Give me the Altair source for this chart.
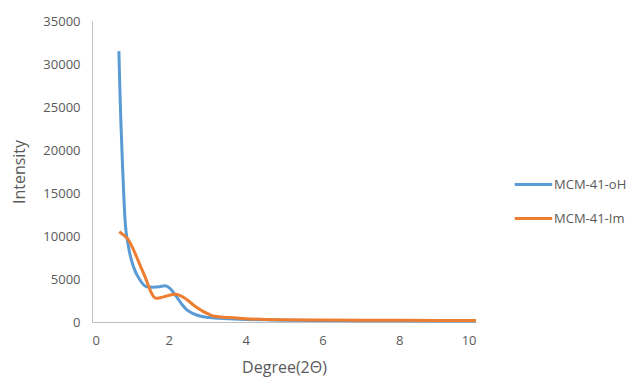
import altair as alt
import pandas as pd

oh_x = [0.70, 0.72, 0.75, 0.80, 0.86, 0.95, 1.08, 1.25, 1.42, 1.60, 1.75, 1.90, 2.03, 2.20, 2.35, 2.47, 2.65, 2.81, 3.05, 3.33, 3.7, 4.0, 4.5, 5.0, 6.0, 7.0, 8.0, 9.0, 10.0]
oh_y = [31500, 28000, 23500, 17700, 11900, 8760, 6430, 4880, 4100, 4050, 4100, 4220, 3900, 2940, 2000, 1400, 950, 700, 520, 430, 350, 300, 250, 200, 170, 150, 140, 130, 120]

im_x = [0.71, 0.80, 0.95, 1.05, 1.16, 1.28, 1.38, 1.48, 1.55, 1.68, 1.80, 1.94, 2.05, 2.16, 2.28, 2.38, 2.50, 2.64, 2.78, 2.90, 3.05, 3.16, 3.35, 3.60, 4.0, 4.5, 5.0, 6.0, 7.0, 8.0, 9.0, 10.0]
im_y = [10500, 10200, 9530, 8700, 7590, 6300, 5270, 4100, 3340, 2760, 2850, 3020, 3150, 3220, 3100, 2870, 2500, 1980, 1550, 1200, 900, 700, 580, 510, 380, 300, 250, 220, 200, 190, 180, 170]

series = ["MCM-41-oH", "MCM-41-Im"]

df = pd.concat([
    pd.DataFrame({"x": oh_x, "y": oh_y, "s": series[0], "o": range(len(oh_x))}),
    pd.DataFrame({"x": im_x, "y": im_y, "s": series[1], "o": range(len(im_x))}),
])

font = "Open Sans"
chart = alt.Chart(df).mark_line(strokeWidth=3, interpolate="monotone").encode(
    x=alt.X("x:Q", scale=alt.Scale(domain=[0, 10], nice=False),
            axis=alt.Axis(title="Degree(2Θ)", values=[0, 2, 4, 6, 8, 10], grid=False, ticks=False,
                          domainColor="#BFBFBF", labelColor="#595959", labelFontSize=13,
                          labelPadding=12, titleColor="#595959", titleFontSize=16,
                          titleFontWeight="normal", titlePadding=12, labelFont=font, titleFont=font)),
    y=alt.Y("y:Q", scale=alt.Scale(domain=[0, 35000], nice=False),
            axis=alt.Axis(title="Intensity", values=[0, 5000, 10000, 15000, 20000, 25000, 30000, 35000],
                          format="d", grid=False, ticks=False, domainColor="#BFBFBF", labelColor="#595959",
                          labelFontSize=13, labelPadding=12, titleColor="#595959", titleFontSize=16,
                          titleFontWeight="normal", titlePadding=15, labelFont=font, titleFont=font)),
    color=alt.Color("s:N", scale=alt.Scale(domain=series, range=["#5B9BD5", "#ED7D31"]),
                    legend=alt.Legend(title=None, orient="none", legendX=421, legendY=143,
                                      symbolType="stroke", symbolSize=1400, symbolStrokeWidth=3,
                                      labelFontSize=13, labelColor="#595959", labelFont=font,
                                      rowPadding=6, labelOffset=0)),
    order="o:Q",
).properties(width=384, height=301, padding={"left": 92, "top": 21, "right": 162, "bottom": 58},
             autosize=alt.AutoSizeParams(type="none")).configure_view(stroke=None)

chart.save("out.html", embed_options={"renderer": "svg", "actions": False})
